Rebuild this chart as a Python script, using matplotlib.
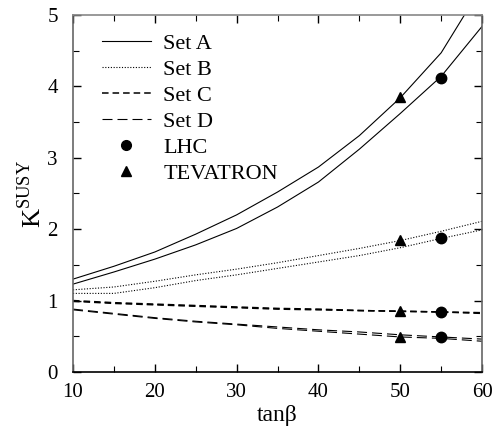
import numpy as np
import matplotlib
matplotlib.use('Agg')
import matplotlib.pyplot as plt
from matplotlib.lines import Line2D
from matplotlib.legend_handler import HandlerLine2D
from matplotlib.ticker import MultipleLocator

plt.rcParams['font.family'] = ['Liberation Serif', 'DejaVu Serif']
plt.rcParams['mathtext.fontset'] = 'custom'
plt.rcParams['mathtext.rm'] = 'Liberation Serif'

# tan(beta) grid and curves
tanb = [10, 15, 20, 25, 30, 35, 40, 45, 50, 55, 60]

a_tev = [1.30, 1.48, 1.68, 1.93, 2.20, 2.52, 2.87, 3.31, 3.84, 4.47, 5.40]
a_lhc = [1.23, 1.40, 1.58, 1.78, 2.01, 2.31, 2.66, 3.12, 3.62, 4.14, 4.84]
b_tev = [1.15, 1.19, 1.27, 1.36, 1.44, 1.53, 1.63, 1.73, 1.84, 1.97, 2.11]
b_lhc = [1.10, 1.10, 1.18, 1.28, 1.36, 1.45, 1.54, 1.63, 1.74, 1.87, 1.99]
c_tev = [1.00, 0.97, 0.95, 0.93, 0.91, 0.89, 0.88, 0.86, 0.85, 0.84, 0.83]
c_lhc = [0.99, 0.96, 0.94, 0.92, 0.90, 0.88, 0.87, 0.86, 0.85, 0.84, 0.82]
d_tev = [0.88, 0.82, 0.76, 0.71, 0.67, 0.63, 0.59, 0.56, 0.52, 0.49, 0.46]
d_lhc = [0.87, 0.81, 0.75, 0.70, 0.66, 0.61, 0.57, 0.53, 0.49, 0.47, 0.43]

# benchmark points
lhc_x = [55, 55, 55, 55]
lhc_y = [4.12, 1.87, 0.84, 0.49]
tev_x = [50, 50, 50, 50]
tev_y = [3.85, 1.85, 0.85, 0.49]

labels = ['Set A', 'Set B', 'Set C', 'Set D', 'LHC', 'TEVATRON']


class MarkerRight(HandlerLine2D):
    # put the single legend marker at the right end of the handle
    def get_xdata(self, legend, xdescent, ydescent, width, height, fontsize):
        xdata = [-xdescent, -xdescent + width]
        return xdata, [-xdescent + width - 3]


fig = plt.figure(figsize=(4.98, 4.34), dpi=100)
ax = fig.add_axes([0.1466, 0.143, 0.8214, 0.8225])

lw = 0.8
sty_a = '-'
sty_b = (0, (1, 1.5))
sty_c = (0, (4.3, 2.6))
sty_d = (0, (9, 4.5))

ax.plot(tanb, a_tev, color='k', lw=lw, ls=sty_a)
ax.plot(tanb, a_lhc, color='k', lw=lw, ls=sty_a)
ax.plot(tanb, b_tev, color='k', lw=lw, ls=sty_b)
ax.plot(tanb, b_lhc, color='k', lw=lw, ls=sty_b)
ax.plot(tanb, c_tev, color='k', lw=1.1, ls=sty_c)
ax.plot(tanb, c_lhc, color='k', lw=1.1, ls=sty_c)
ax.plot(tanb, d_tev, color='k', lw=lw, ls=sty_d)
ax.plot(tanb, d_lhc, color='k', lw=lw, ls=sty_d)

ax.plot(lhc_x, lhc_y, 'o', color='k', ms=7.5, ls='none')
ax.plot(tev_x, tev_y, '^', color='k', ms=7.5, ls='none')

ax.set_xlim(10, 60)
ax.set_ylim(0, 5)
ax.xaxis.set_major_locator(MultipleLocator(10))
ax.xaxis.set_minor_locator(MultipleLocator(5))
ax.yaxis.set_major_locator(MultipleLocator(1))
ax.yaxis.set_minor_locator(MultipleLocator(0.5))
ax.tick_params(which='both', direction='in', top=True, right=True,
               labelsize=15, color='k')
ax.tick_params(axis='x', pad=8)
ax.tick_params(axis='y', pad=11)
ax.tick_params(which='major', length=6, width=1)
ax.tick_params(which='minor', length=4, width=0.8)
ax.spines['bottom'].set_color('k')
ax.spines['left'].set_color('#666666')
ax.spines['top'].set_color('#888888')
ax.spines['right'].set_color('#666666')
for s in ax.spines.values():
    s.set_linewidth(1.2)

ax.set_xlabel('tanβ', fontsize=17, labelpad=2)
ax.set_ylabel(r'K$^{\mathrm{SUSY}}$', fontsize=19, labelpad=1)

handles = [
    Line2D([], [], color='k', lw=lw, ls=sty_a),
    Line2D([], [], color='k', lw=lw, ls=sty_b),
    Line2D([], [], color='k', lw=1.1, ls=sty_c),
    Line2D([], [], color='k', lw=lw, ls=sty_d),
    Line2D([], [], color='k', marker='o', ms=7, ls='none'),
    Line2D([], [], color='k', marker='^', ms=7, ls='none'),
]
leg = ax.legend(handles, labels, loc='upper left', frameon=False,
                fontsize=16, handlelength=2.2, handletextpad=0.55,
                labelspacing=0.24, borderaxespad=0.0, borderpad=0.0,
                bbox_to_anchor=(0.071, 0.948),
                handler_map={handles[4]: MarkerRight(), handles[5]: MarkerRight()})

fig.savefig('out.png', dpi=100)
